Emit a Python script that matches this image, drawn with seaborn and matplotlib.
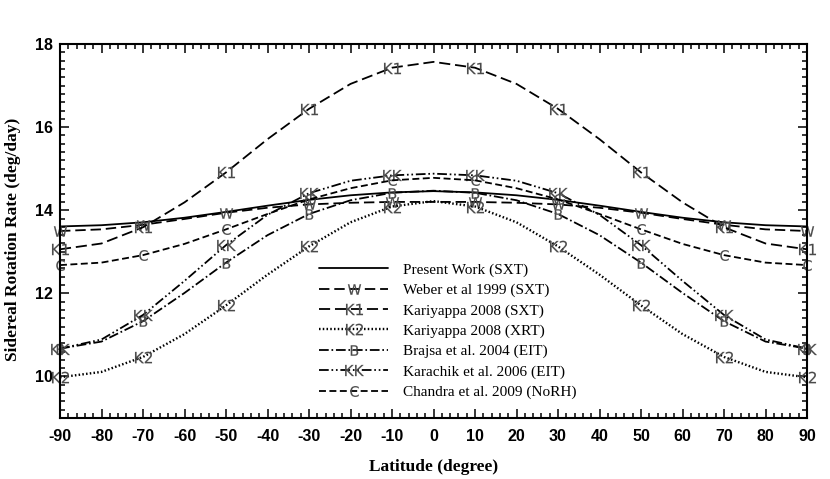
import numpy as np
import matplotlib
matplotlib.use('Agg')
import matplotlib.pyplot as plt
import seaborn as sns
from matplotlib.ticker import MultipleLocator

# latitude grid (degree)
lat = [-90, -80, -70, -60, -50, -40, -30, -20, -10, 0, 10, 20, 30, 40, 50, 60, 70, 80, 90]

# sidereal rotation rate (deg/day)
present = [13.61, 13.64, 13.71, 13.82, 13.96, 14.11, 14.25, 14.36, 14.43, 14.46,
           14.43, 14.36, 14.25, 14.11, 13.96, 13.82, 13.71, 13.64, 13.61]
weber = [13.50, 13.54, 13.65, 13.79, 13.94, 14.06, 14.14, 14.18, 14.20, 14.20,
         14.20, 14.18, 14.14, 14.06, 13.94, 13.79, 13.65, 13.54, 13.50]
kar_sxt = [13.06, 13.20, 13.59, 14.19, 14.91, 15.71, 16.44, 17.04, 17.43, 17.57,
           17.43, 17.04, 16.44, 15.71, 14.91, 14.19, 13.59, 13.20, 13.06]
kar_xrt = [9.98, 10.11, 10.47, 11.02, 11.71, 12.45, 13.13, 13.71, 14.09, 14.22,
           14.09, 13.71, 13.13, 12.45, 11.71, 11.02, 10.47, 10.11, 9.98]
brajsa = [10.67, 10.84, 11.33, 12.01, 12.74, 13.40, 13.91, 14.24, 14.42, 14.47,
          14.42, 14.24, 13.91, 13.40, 12.74, 12.01, 11.33, 10.84, 10.67]
karachik = [10.67, 10.89, 11.48, 12.30, 13.16, 13.89, 14.41, 14.71, 14.84, 14.88,
            14.84, 14.71, 14.41, 13.89, 13.16, 12.30, 11.48, 10.89, 10.67]
chandra = [12.68, 12.74, 12.92, 13.19, 13.54, 13.91, 14.26, 14.53, 14.72, 14.78,
           14.72, 14.53, 14.26, 13.91, 13.54, 13.19, 12.92, 12.74, 12.68]

labels = ['Present Work (SXT)', 'Weber et al 1999 (SXT)', 'Kariyappa 2008 (SXT)',
          'Kariyappa 2008 (XRT)', 'Brajsa et al. 2004 (EIT)', 'Karachik et al. 2006 (EIT)',
          'Chandra et al. 2009 (NoRH)']
series = [present, weber, kar_sxt, kar_xrt, brajsa, karachik, chandra]
tags = [None, 'W', 'K1', 'K2', 'B', 'KK', 'C']
tag_size = [0, 9.5, 12.2, 12.2, 7.5, 13.5, 7.8]
widths = [1.3, 1.3, 1.3, 1.7, 1.3, 1.3, 1.3]
styles = ['-', (0, (7.5, 3.5)), (0, (8, 3.5)), (0, (1.1, 1.6)),
          (0, (7, 2, 1.2, 2)), (0, (7, 2, 1.2, 2, 1.2, 2)), (0, (5, 2.5))]

sns.set_style('ticks', {'axes.edgecolor': 'black', 'text.color': 'black',
                        'xtick.color': 'black', 'ytick.color': 'black',
                        'axes.labelcolor': 'black'})
plt.rcParams['lines.scale_dashes'] = False
plt.rcParams['mathtext.fontset'] = 'dejavusans'
plt.rcParams['axes.unicode_minus'] = False

fig = plt.figure(figsize=(8.3, 4.79), dpi=100)
ax = fig.add_axes([0.0723, 0.1273, 0.9, 0.7808])

for vals, lab, tag, ms, lw, ls in zip(series, labels, tags, tag_size, widths, styles):
    kw = dict(color='black', linewidth=lw, linestyle=ls, label=lab, clip_on=False)
    if tag:
        kw.update(marker=r'$\mathsf{%s}$' % tag, markersize=ms, markevery=2,
                  markerfacecolor='#4a4a4a', markeredgecolor='#4a4a4a',
                  markeredgewidth=0.1)
    sns.lineplot(x=lat, y=vals, ax=ax, **kw)

ax.set_xlim(-90, 90)
ax.set_ylim(9, 18)
ax.xaxis.set_major_locator(MultipleLocator(10))
ax.xaxis.set_minor_locator(MultipleLocator(2))
ax.yaxis.set_major_locator(MultipleLocator(2))
ax.yaxis.set_minor_locator(MultipleLocator(0.2))
ax.tick_params(which='both', direction='in', top=True, right=True, width=1.1)
ax.tick_params(which='major', length=6.5)
ax.tick_params(which='minor', length=3.5)
ax.tick_params(axis='x', pad=8, labelsize=11.5)
ax.tick_params(axis='y', pad=5, labelsize=11.5)
for s in ax.spines.values():
    s.set_linewidth(1.5)

for t in ax.get_xticklabels() + ax.get_yticklabels():
    t.set_fontfamily('Liberation Sans')
    t.set_fontweight('bold')

ax.set_xlabel('Latitude (degree)', family='Liberation Serif', weight='bold',
              fontsize=12.5, labelpad=11)
ax.set_ylabel('Sidereal Rotation Rate (deg/day)', family='Liberation Serif',
              weight='bold', fontsize=12.5)
ax.yaxis.set_label_coords(-0.052, 0.479)

leg = ax.legend(loc='upper left', bbox_to_anchor=(0.347, 0.415), frameon=False,
                prop={'family': 'Liberation Serif', 'size': 11},
                handlelength=4.5, handletextpad=1.0, labelspacing=0.43,
                borderpad=0, borderaxespad=0)

fig.savefig('out.png', dpi=100)
